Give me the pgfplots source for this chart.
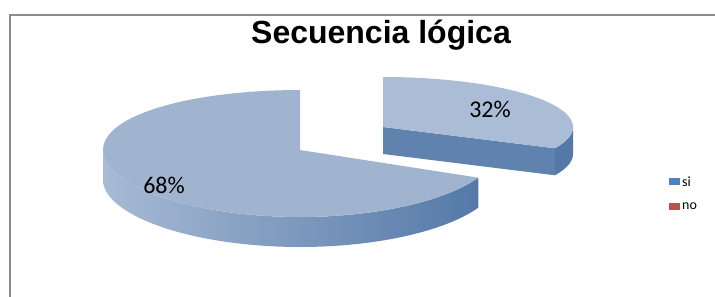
\documentclass[border=0pt]{standalone}
\usepackage{fontspec}
\setmainfont{Carlito}
\newfontfamily\titlefont{Liberation Sans}
\usepackage{pgfplots}
\pgfplotsset{compat=1.18}
\definecolor{siBlue}{HTML}{4F81BD}
\definecolor{noRed}{HTML}{C0504D}
\definecolor{topBig}{HTML}{A0B4CF}
\definecolor{topExp}{HTML}{ABBDD6}
\definecolor{sideLight}{HTML}{A8BAD4}
\definecolor{sideDark}{HTML}{5479A8}
\definecolor{cutFace}{HTML}{6082AE}
\definecolor{frameGray}{HTML}{8C8C8C}
% data: si = 32 %, no = 68 %
\def\valSi{32}
\def\valNo{68}
\pgfmathsetmacro\aEnd{90-3.6*\valSi}      % -25.2
\pgfmathsetmacro\aEndB{\aEnd+360}         % 334.8
% big slice geometry (image pixel coordinates); P gives the front a little more depth
\def\cx{300}\def\cy{150}\def\rx{197}\def\ry{63.5}\def\P{3.5}\def\dep{30}
% exploded slice geometry
\def\ex{383}\def\ey{127}\def\erx{190}\def\ery{50}\def\edep{27}
\begin{document}
\begin{tikzpicture}
\begin{axis}[
  scale only axis, width=715bp, height=297bp,
  xmin=0, xmax=715, ymin=0, ymax=297, y dir=reverse,
  hide axis,
  legend style={at={(0.9357,0.4135)}, anchor=north west, draw=none, fill=none,
    font=\fontsize{14bp}{16bp}\selectfont, row sep=11bp, inner sep=0pt,
    cells={anchor=west}},
  legend image code/.code={\fill[#1] (0bp,-3.5bp) rectangle (11bp,3.5bp);},
]
\addlegendimage{fill=siBlue, draw=none}
\addlegendentry{si}
\addlegendimage{fill=noRed, draw=none}
\addlegendentry{no}

% frame
\addplot[forget plot, frameGray, line width=1.5bp] coordinates {(10,297) (10,15) (715,15)};

% big slice (68 %) - outer side
\addplot[forget plot, draw=none, left color=sideLight, right color=sideDark,
  domain=0:3, samples=241, variable=\t]
  ({\cx + \rx*cos(180 + (\aEndB-180)*min(\t,1) - (\aEndB-180)*min(max(\t-2,0),1))},
   {\cy - \ry*sin(180 + (\aEndB-180)*min(\t,1) - (\aEndB-180)*min(max(\t-2,0),1))
        + \P*(sin(180 + (\aEndB-180)*min(\t,1) - (\aEndB-180)*min(max(\t-2,0),1)))^2
        + \dep*min(max(\t-1,0),1)});
% big slice - top face
\addplot[forget plot, draw=none, fill=topBig, domain=0:2, samples=161, variable=\t]
  ({\cx + \rx*(1-min(max(\t-1,0),1))*cos(90 + (\aEndB-90)*min(\t,1))},
   {\cy + (1-min(max(\t-1,0),1))*(-\ry*sin(90 + (\aEndB-90)*min(\t,1))
        + \P*(sin(90 + (\aEndB-90)*min(\t,1)))^2)});

% exploded slice (32 %) - cut face
\addplot[forget plot, draw=none, fill=cutFace, domain=0:3, samples=241, variable=\t]
  ({\ex + \erx*(min(\t,1) - min(max(\t-2,0),1))*cos(\aEnd)},
   {\ey - \ery*(min(\t,1) - min(max(\t-2,0),1))*sin(\aEnd) + \edep*min(max(\t-1,0),1)});
% exploded slice - outer side
\addplot[forget plot, draw=none, fill=sideDark, domain=0:3, samples=121, variable=\t]
  ({\ex + \erx*cos(\aEnd + (0-\aEnd)*min(\t,1) - (0-\aEnd)*min(max(\t-2,0),1))},
   {\ey - \ery*sin(\aEnd + (0-\aEnd)*min(\t,1) - (0-\aEnd)*min(max(\t-2,0),1)) + \edep*min(max(\t-1,0),1)});
% exploded slice - top face
\addplot[forget plot, draw=none, fill=topExp, domain=0:2, samples=161, variable=\t]
  ({\ex + \erx*(1-min(max(\t-1,0),1))*cos(\aEnd + (90-\aEnd)*min(\t,1))},
   {\ey - \ery*(1-min(max(\t-1,0),1))*sin(\aEnd + (90-\aEnd)*min(\t,1))});

% labels
\node[font=\fontsize{24bp}{28bp}\selectfont] at (axis cs:490,109) {32\%};
\node[font=\fontsize{24bp}{28bp}\selectfont] at (axis cs:164,185) {68\%};
% title
\node[anchor=base, font=\titlefont\bfseries\fontsize{32bp}{36bp}\selectfont] at (axis cs:381,43) {Secuencia lógica};
\end{axis}
\path (current axis.south west) rectangle (current axis.north east);
\end{tikzpicture}
\end{document}
